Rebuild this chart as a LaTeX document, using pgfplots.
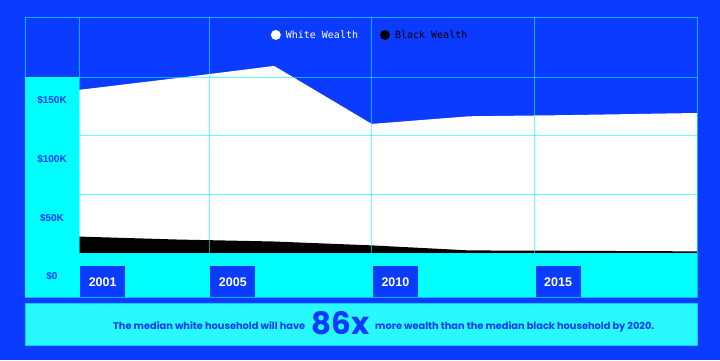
\documentclass[border=0pt]{standalone}
\usepackage{pgfplots}
\pgfplotsset{compat=1.18}
\usepackage{fontspec}
\setmainfont{Liberation Sans}
\newfontfamily\pop{Poppins}
\newfontfamily\mono{DejaVu Sans Mono}
\definecolor{bgblue}{HTML}{0B3BFF}
\definecolor{cy}{HTML}{00FFFF}
\definecolor{boxcy}{HTML}{2AF8FF}
\begin{document}
\begin{tikzpicture}[x=1pt,y=1pt]
\useasboundingbox (0,0) rectangle (720,360);
\fill[bgblue] (0,0) rectangle (720,360);
\fill[cy] (25,63) rectangle (79,283);
\fill[cy] (25,63) rectangle (697,107);
\fill[boxcy] (25,15) rectangle (697,57);
\draw[cy!75!bgblue, line width=0.8pt] (25,15) rectangle (697,57);
\begin{axis}[
  at={(79pt,107pt)}, anchor=south west, scale only axis,
  width=618pt, height=236pt,
  xmin=2001, xmax=2020, ymin=0, ymax=201.1,
  axis line style={draw=none}, tick style={draw=none},
  xtick={2001,2005,2010,2015}, xticklabels={2001,2005,2010,2015},
  ytick={0,50,100,150}, yticklabels={\$0,\$50K,\$100K,\$150K},
  grid=major, major grid style={cy, opacity=0.6, line width=0.6pt},
  axis on top,
  xticklabel style={anchor=north west, xshift=1pt, yshift=-13pt, fill=bgblue, text=white,
    inner sep=0pt, minimum width=45pt, minimum height=31pt,
    font=\bfseries\fontsize{12.5}{13}\selectfont},
  yticklabel style={anchor=center, xshift=-27pt, yshift=-23.5pt, text=bgblue,
    font=\bfseries\fontsize{10}{12}\selectfont},
  legend style={at={(0.471,0.924)}, anchor=center, draw=none, fill=none,
    legend columns=2, font=\mono\fontsize{10}{10}\selectfont,
    /tikz/every even column/.append style={column sep=20pt}},
  legend image code/.code={\fill[#1,draw=none] (5pt,0pt) circle (5pt); \path (13pt,0pt);},
]
\addplot[fill=white, draw=none] coordinates {
  (2001,139) (2004,149) (2007,159.4) (2010,110) (2013,116.5) (2016,117.5) (2020,119.3)
} \closedcycle;
\addlegendentry{\textcolor{white}{White Wealth}}
\addplot[fill=black, draw=none] coordinates {
  (2001,14) (2004,11.5) (2007,9.8) (2010,6.5) (2013,2.2) (2016,1.9) (2020,1.4)
} \closedcycle;
\addlegendentry{\textcolor{black}{Black Wealth}}
\end{axis}
\draw[cy, opacity=0.6, line width=0.6pt] (25,63) rectangle (697,343);
\draw[cy, opacity=0.6, line width=0.6pt] (25,283) -- (79,283);
\node[anchor=base west, inner sep=0pt, text=bgblue] at (113,31)
  {\pop\bfseries\fontsize{9.8}{10}\selectfont The median white household will have\hspace{6pt}\raisebox{-5pt}{\fontsize{31}{31}\selectfont 86x}\hspace{6pt}more wealth than the median black household by 2020.};
\end{tikzpicture}
\end{document}
